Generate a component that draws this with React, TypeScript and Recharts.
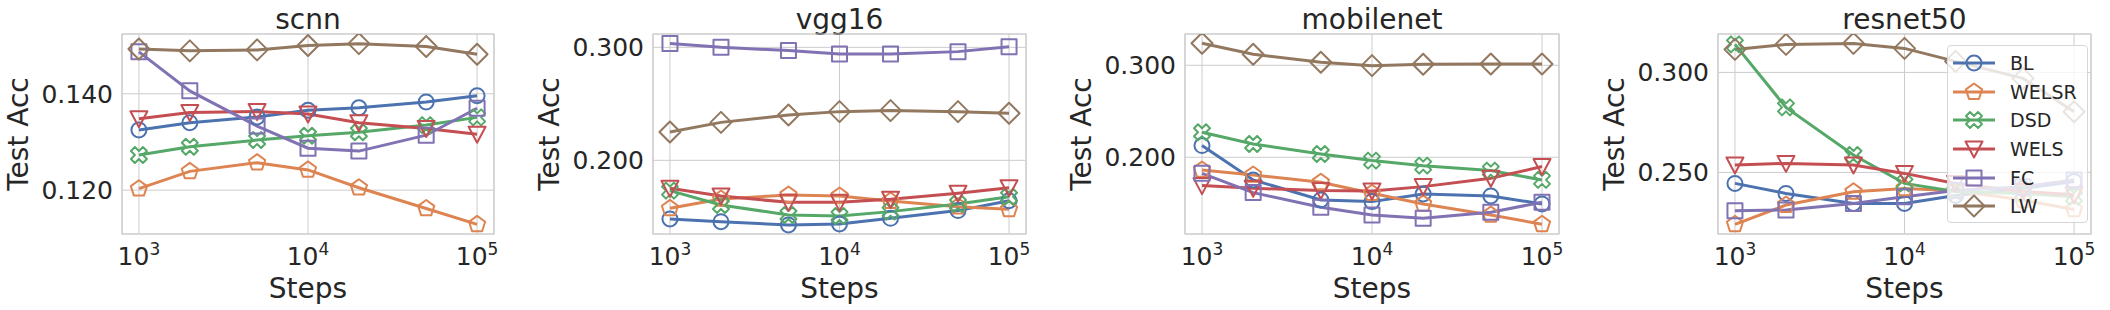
import { LineChart, Line, XAxis, YAxis, CartesianGrid, ReferenceArea, Legend } from 'recharts';

// x positions shared by every panel
const steps = [1000, 2000, 5000, 10000, 20000, 50000, 100000];
const xTicks = [1000, 10000, 100000];

const seriesNames = ['BL', 'WELSR', 'DSD', 'WELS', 'FC', 'LW'];
const seriesColors = ['#4c72b0', '#dd8452', '#55a868', '#c44e52', '#8172b3', '#937860'];
const seriesMarkers = ['circle', 'pentagon', 'x', 'triangle', 'square', 'diamond'];

// one row per series, same order as seriesNames
const scnnAcc = [
    [0.1325, 0.134, 0.1352, 0.1366, 0.1371, 0.1383, 0.1396],
    [0.1203, 0.1239, 0.1257, 0.1242, 0.1205, 0.1162, 0.1129],
    [0.1273, 0.129, 0.1304, 0.1313, 0.132, 0.1335, 0.1351],
    [0.1348, 0.1361, 0.1363, 0.1358, 0.134, 0.1328, 0.1316],
    [0.1487, 0.1406, 0.1333, 0.1287, 0.1281, 0.1314, 0.137],
    [0.1493, 0.1489, 0.1491, 0.15, 0.1504, 0.1498, 0.1482],
];
const vgg16Acc = [
    [0.1481, 0.1457, 0.1428, 0.1437, 0.1487, 0.1555, 0.1643],
    [0.1575, 0.1658, 0.1693, 0.1684, 0.164, 0.159, 0.1566],
    [0.1732, 0.1605, 0.1516, 0.1507, 0.1546, 0.1614, 0.1678],
    [0.1752, 0.1684, 0.1628, 0.1628, 0.1655, 0.1708, 0.1758],
    [0.3033, 0.3, 0.2971, 0.2941, 0.2941, 0.2962, 0.3006],
    [0.2251, 0.2336, 0.2401, 0.2431, 0.244, 0.2431, 0.2416],
];
const mobilenetAcc = [
    [0.2127, 0.1754, 0.1536, 0.1518, 0.1601, 0.158, 0.1493],
    [0.1862, 0.1808, 0.1728, 0.1609, 0.1493, 0.1373, 0.1272],
    [0.2272, 0.2145, 0.2036, 0.1964, 0.1909, 0.1855, 0.1754],
    [0.1692, 0.1663, 0.1638, 0.1634, 0.1681, 0.1772, 0.1899],
    [0.1826, 0.1616, 0.1457, 0.1373, 0.1337, 0.1402, 0.1511],
    [0.3239, 0.312, 0.3033, 0.2996, 0.3011, 0.3014, 0.3014],
];
const resnet50Acc = [
    [0.2445, 0.2395, 0.2345, 0.2345, 0.2385, 0.242, 0.2455],
    [0.224, 0.2337, 0.2403, 0.242, 0.2408, 0.2362, 0.2315],
    [0.314, 0.2825, 0.2587, 0.2445, 0.2405, 0.2395, 0.2378],
    [0.2537, 0.2545, 0.2537, 0.2495, 0.2445, 0.2405, 0.2388],
    [0.2308, 0.2312, 0.2345, 0.2378, 0.241, 0.2428, 0.2462],
    [0.3115, 0.314, 0.3145, 0.312, 0.3055, 0.297, 0.2803],
];

const panels = [
    { title: 'scnn', values: scnnAcc, yDomain: [0.1109, 0.1524], yTicks: [0.12, 0.14], left: 0, plotW: 372 },
    { title: 'vgg16', values: vgg16Acc, yDomain: [0.1348, 0.3118], yTicks: [0.2, 0.3], left: 531, plotW: 373 },
    { title: 'mobilenet', values: mobilenetAcc, yDomain: [0.1166, 0.334], yTicks: [0.2, 0.3], left: 1063, plotW: 374 },
    { title: 'resnet50', values: resnet50Acc, yDomain: [0.2192, 0.3192], yTicks: [0.25, 0.3], left: 1596, plotW: 373, legend: true },
];

const xDomain = [Math.pow(10, 2.9), Math.pow(10, 5.1)];
const FONT = '"DejaVu Sans", sans-serif';
const TEXT = '#262626';
const GRID = '#cccccc';

function Marker({ kind, cx, cy, color }: { kind: string; cx: number; cy: number; color: string }) {
    const common = { fill: 'none', stroke: color, strokeWidth: 2, strokeLinejoin: 'round' as const };
    if (kind === 'circle') return <circle cx={cx} cy={cy} r={7.5} {...common} />;
    if (kind === 'square') return <rect x={cx - 7.5} y={cy - 7.5} width={15} height={15} {...common} />;
    if (kind === 'diamond') {
        const h = 10.5;
        return <polygon points={`${cx},${cy - h} ${cx + h},${cy} ${cx},${cy + h} ${cx - h},${cy}`} {...common} />;
    }
    if (kind === 'triangle') {
        return <polygon points={`${cx - 8.5},${cy - 7.5} ${cx + 8.5},${cy - 7.5} ${cx},${cy + 8.5}`} {...common} />;
    }
    if (kind === 'pentagon') {
        const r = 8.5;
        const pts = [0, 1, 2, 3, 4]
            .map((i) => {
                const a = -Math.PI / 2 + (i * 2 * Math.PI) / 5;
                return `${cx + r * Math.cos(a)},${cy + r * Math.sin(a)}`;
            })
            .join(' ');
        return <polygon points={pts} {...common} />;
    }
    // filled "X" outline like matplotlib's 'X'
    const s = 16;
    const xs = [
        [-0.25, -0.5], [0, -0.25], [0.25, -0.5], [0.5, -0.25], [0.25, 0], [0.5, 0.25],
        [0.25, 0.5], [0, 0.25], [-0.25, 0.5], [-0.5, 0.25], [-0.25, 0], [-0.5, -0.25],
    ];
    return <polygon points={xs.map(([a, b]) => `${cx + a * s},${cy + b * s}`).join(' ')} {...common} />;
}

function PowerTick({ x, y, payload }: any) {
    const exp = Math.round(Math.log10(payload.value));
    return (
        <text x={x} y={y + 23} textAnchor="middle" fill={TEXT} fontSize={25} fontFamily={FONT}>
            <tspan>10</tspan>
            <tspan dy={-10} fontSize={17}>{exp}</tspan>
        </text>
    );
}

function LegendBox() {
    return (
        <div
            style={{
                width: 141,
                height: 178,
                boxSizing: 'border-box',
                paddingTop: 3,
                background: 'rgba(255,255,255,0.8)',
                border: '1px solid #d6d6d6',
                borderRadius: 4,
                fontFamily: FONT,
                fontSize: 19,
                color: TEXT,
            }}
        >
            {seriesNames.map((name, i) => (
                <div key={name} style={{ display: 'flex', alignItems: 'center', height: 28.6 }}>
                    <svg width={62} height={28} style={{ flex: 'none' }}>
                        <line x1={5} x2={47} y1={14} y2={14} stroke={seriesColors[i]} strokeWidth={3} />
                        <Marker kind={seriesMarkers[i]} cx={26} cy={14} color={seriesColors[i]} />
                    </svg>
                    <span>{name}</span>
                </div>
            ))}
        </div>
    );
}

function Panel({ panel }: { panel: (typeof panels)[number] }) {
    const data = steps.map((step, j) => {
        const row: Record<string, number> = { step };
        seriesNames.forEach((name, i) => {
            row[name] = panel.values[i][j];
        });
        return row;
    });
    const width = 122 + panel.plotW + 19;

    return (
        <div style={{ position: 'absolute', left: panel.left, top: 0 }}>
            <LineChart width={width} height={310} data={data} margin={{ top: 34, right: 19, bottom: 0, left: 0 }}>
                <CartesianGrid stroke={GRID} strokeWidth={1} />
                <ReferenceArea
                    x1={xDomain[0]}
                    x2={xDomain[1]}
                    y1={panel.yDomain[0]}
                    y2={panel.yDomain[1]}
                    fill="none"
                    stroke={GRID}
                    strokeWidth={1.2}
                    ifOverflow="visible"
                />
                <XAxis
                    dataKey="step"
                    type="number"
                    scale="log"
                    domain={xDomain}
                    ticks={xTicks}
                    allowDataOverflow
                    height={76}
                    axisLine={false}
                    tickLine={false}
                    tick={<PowerTick />}
                    label={{ value: 'Steps', position: 'insideBottom', offset: 12, fill: TEXT, fontSize: 28, fontFamily: FONT }}
                />
                <YAxis
                    type="number"
                    domain={panel.yDomain}
                    ticks={panel.yTicks}
                    allowDataOverflow
                    width={122}
                    axisLine={false}
                    tickLine={false}
                    tickMargin={3}
                    tickFormatter={(v: number) => v.toFixed(3)}
                    tick={{ fill: TEXT, fontSize: 25, fontFamily: FONT }}
                    label={{
                        value: 'Test Acc',
                        angle: -90,
                        position: 'insideLeft',
                        offset: 18,
                        fill: TEXT,
                        fontSize: 28,
                        fontFamily: FONT,
                        style: { textAnchor: 'middle' },
                    }}
                />
                {seriesNames.map((name, i) => (
                    <Line
                        key={name}
                        dataKey={name}
                        stroke={seriesColors[i]}
                        strokeWidth={3}
                        isAnimationActive={false}
                        activeDot={false}
                        dot={(p: any) => (
                            <Marker key={`${name}-${p.index}`} kind={seriesMarkers[i]} cx={p.cx} cy={p.cy} color={seriesColors[i]} />
                        )}
                    />
                ))}
                <text x={122 + panel.plotW / 2} y={29} textAnchor="middle" fill={TEXT} fontSize={28} fontFamily={FONT}>
                    {panel.title}
                </text>
                {panel.legend && (
                    <Legend
                        layout="vertical"
                        align="center"
                        verticalAlign="middle"
                        wrapperStyle={{ left: 351, top: 45, width: 141 }}
                        content={() => <LegendBox />}
                    />
                )}
            </LineChart>
        </div>
    );
}

export default function App() {
    return (
        <div style={{ position: 'absolute', left: 0, top: 0, width: 2110, height: 310, background: '#fff' }}>
            {panels.map((p) => (
                <Panel key={p.title} panel={p} />
            ))}
        </div>
    );
}
